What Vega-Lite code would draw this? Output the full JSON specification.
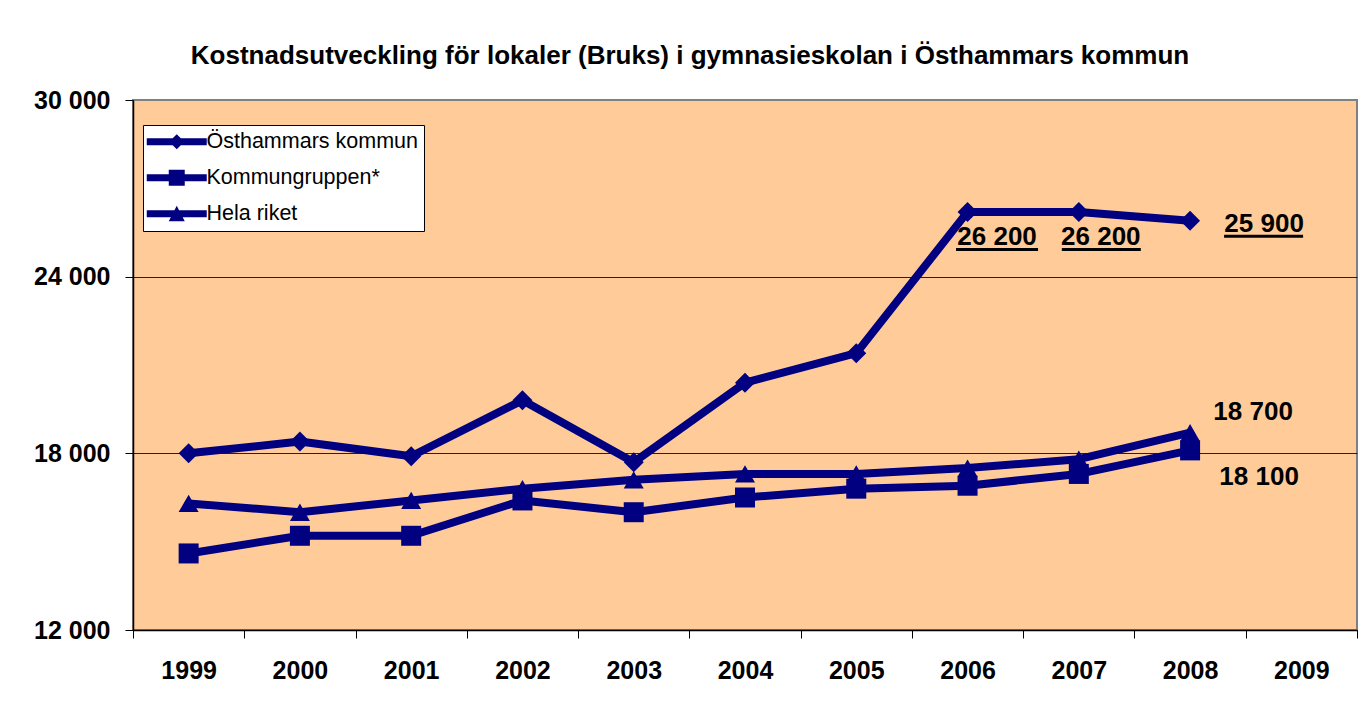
{
  "$schema": "https://vega.github.io/schema/vega-lite/v6.json",
  "width": 1224,
  "height": 530,
  "autosize": {"type": "none"},
  "padding": {"left": 133, "top": 100, "right": 4, "bottom": 81},
  "background": "white",
  "title": {
    "text": "Kostnadsutveckling för lokaler (Bruks) i gymnasieskolan i Östhammars kommun",
    "anchor": "middle",
    "frame": "group",
    "dx": -55,
    "offset": -2,
    "baseline": "alphabetic",
    "font": "Liberation Sans",
    "fontSize": 26,
    "fontWeight": "bold",
    "color": "black"
  },
  "config": {
    "locale": {"number": {"decimal": ",", "thousands": " ", "grouping": [3], "currency": ["", " kr"]}},
    "view": {"stroke": "#808080", "strokeWidth": 2, "fill": "#FFCC99"},
    "font": "Liberation Sans"
  },
  "resolve": {"scale": {"shape": "independent"}, "legend": {"shape": "independent"}},
  "data": {
    "values": [
      {"year": "1999", "series": "Östhammars kommun", "value": 18000},
      {"year": "2000", "series": "Östhammars kommun", "value": 18400},
      {"year": "2001", "series": "Östhammars kommun", "value": 17900},
      {"year": "2002", "series": "Östhammars kommun", "value": 19800},
      {"year": "2003", "series": "Östhammars kommun", "value": 17700},
      {"year": "2004", "series": "Östhammars kommun", "value": 20400},
      {"year": "2005", "series": "Östhammars kommun", "value": 21400},
      {"year": "2006", "series": "Östhammars kommun", "value": 26200},
      {"year": "2007", "series": "Östhammars kommun", "value": 26200},
      {"year": "2008", "series": "Östhammars kommun", "value": 25900},
      {"year": "1999", "series": "Kommungruppen*", "value": 14600},
      {"year": "2000", "series": "Kommungruppen*", "value": 15200},
      {"year": "2001", "series": "Kommungruppen*", "value": 15200},
      {"year": "2002", "series": "Kommungruppen*", "value": 16400},
      {"year": "2003", "series": "Kommungruppen*", "value": 16000},
      {"year": "2004", "series": "Kommungruppen*", "value": 16500},
      {"year": "2005", "series": "Kommungruppen*", "value": 16800},
      {"year": "2006", "series": "Kommungruppen*", "value": 16900},
      {"year": "2007", "series": "Kommungruppen*", "value": 17300},
      {"year": "2008", "series": "Kommungruppen*", "value": 18100},
      {"year": "1999", "series": "Hela riket", "value": 16300},
      {"year": "2000", "series": "Hela riket", "value": 16000},
      {"year": "2001", "series": "Hela riket", "value": 16400},
      {"year": "2002", "series": "Hela riket", "value": 16800},
      {"year": "2003", "series": "Hela riket", "value": 17100},
      {"year": "2004", "series": "Hela riket", "value": 17300},
      {"year": "2005", "series": "Hela riket", "value": 17300},
      {"year": "2006", "series": "Hela riket", "value": 17500},
      {"year": "2007", "series": "Hela riket", "value": 17800},
      {"year": "2008", "series": "Hela riket", "value": 18700}
    ]
  },
  "encoding": {
    "x": {
      "field": "year",
      "type": "nominal",
      "scale": {"domain": ["1999","2000","2001","2002","2003","2004","2005","2006","2007","2008","2009"], "paddingInner": 0, "paddingOuter": 0},
      "axis": {
        "title": null, "labelAngle": 0, "labelFont": "Liberation Sans", "labelFontSize": 25, "labelFontWeight": "bold",
        "labelColor": "black", "labelPadding": 20, "tickSize": 8, "tickColor": "black", "domainColor": "black",
        "domainWidth": 1.5, "tickBand": "extent", "grid": false
      }
    },
    "y": {
      "field": "value",
      "type": "quantitative",
      "scale": {"domain": [12000, 30000], "nice": false, "zero": false},
      "axis": {
        "title": null, "values": [12000, 18000, 24000, 30000], "format": ",d", "labelFont": "Liberation Sans",
        "labelFontSize": 25, "labelFontWeight": "bold", "labelColor": "black", "labelPadding": 15, "tickSize": 8,
        "tickColor": "black", "domainColor": "black", "domainWidth": 1.5, "grid": true,
        "gridColor": {"condition": {"test": "datum.value === 30000", "value": "#808080"}, "value": "#222222"},
        "gridWidth": 1
      }
    }
  },
  "layer": [
    {
      "mark": {"type": "line", "color": "#000080", "strokeWidth": 8, "strokeJoin": "round", "strokeCap": "round"},
      "encoding": {"detail": {"field": "series"}}
    },
    {
      "mark": {"type": "point", "filled": true, "opacity": 1, "size": 400, "color": "#000080", "strokeWidth": 0},
      "encoding": {
        "shape": {
          "field": "series",
          "type": "nominal",
          "scale": {"domain": ["Östhammars kommun", "Kommungruppen*", "Hela riket"], "range": ["diamond", "square", "triangle-up"]},
          "legend": null
        }
      }
    },
    {
      "mark": {"type": "point", "filled": true, "opacity": 0, "size": 256, "color": "#000080", "strokeWidth": 0},
      "encoding": {
        "shape": {
          "field": "series",
          "type": "nominal",
          "scale": {
            "domain": ["Östhammars kommun", "Kommungruppen*", "Hela riket"],
            "range": [
              "M-3.75,-0.45H3.75V0.45H-3.75Z M0,-0.95L0.95,0L0,0.95L-0.95,0Z",
              "M-3.75,-0.45H3.75V0.45H-3.75Z M-1,-1H1V1H-1Z",
              "M-3.75,-0.45H3.75V0.45H-3.75Z M-1,0.95L0,-1L1,0.95Z"
            ]
          },
          "legend": {
            "title": null, "orient": "none", "legendX": 10, "legendY": 25,
            "fillColor": "white", "strokeColor": "black", "padding": 6,
            "labelFont": "Liberation Sans", "labelFontSize": 21.5, "labelColor": "black", "labelLimit": 400,
            "symbolSize": 256, "symbolOffset": 17, "labelOffset": 19, "rowPadding": 13,
            "symbolFillColor": "#000080", "symbolStrokeColor": "#000080", "symbolStrokeWidth": 0, "symbolOpacity": 1
          }
        }
      }
    },
    {
      "transform": [{"filter": "datum.series === 'Östhammars kommun' && datum.year === '2006'"}],
      "mark": {"type": "text", "font": "Liberation Sans", "fontSize": 26, "fontWeight": "bold", "color": "black", "align": "center", "baseline": "middle", "dx": 29.5, "dy": 25},
      "encoding": {"text": {"field": "value", "type": "quantitative", "format": ",d"}}
    },
    {
      "transform": [{"filter": "datum.series === 'Östhammars kommun' && datum.year === '2007'"}],
      "mark": {"type": "text", "font": "Liberation Sans", "fontSize": 26, "fontWeight": "bold", "color": "black", "align": "center", "baseline": "middle", "dx": 22, "dy": 25},
      "encoding": {"text": {"field": "value", "type": "quantitative", "format": ",d"}}
    },
    {
      "transform": [{"filter": "datum.series === 'Östhammars kommun' && datum.year === '2008'"}],
      "mark": {"type": "text", "font": "Liberation Sans", "fontSize": 26, "fontWeight": "bold", "color": "black", "align": "center", "baseline": "middle", "dx": 74, "dy": 3},
      "encoding": {"text": {"field": "value", "type": "quantitative", "format": ",d"}}
    },
    {
      "transform": [{"filter": "datum.series === 'Hela riket' && datum.year === '2008'"}],
      "mark": {"type": "text", "font": "Liberation Sans", "fontSize": 26, "fontWeight": "bold", "color": "black", "align": "center", "baseline": "middle", "dx": 63, "dy": -21},
      "encoding": {"text": {"field": "value", "type": "quantitative", "format": ",d"}}
    },
    {
      "transform": [{"filter": "datum.series === 'Kommungruppen*' && datum.year === '2008'"}],
      "mark": {"type": "text", "font": "Liberation Sans", "fontSize": 26, "fontWeight": "bold", "color": "black", "align": "center", "baseline": "middle", "dx": 69, "dy": 27},
      "encoding": {"text": {"field": "value", "type": "quantitative", "format": ",d"}}
    },
    {
      "transform": [{"filter": "datum.series === 'Östhammars kommun' && datum.year === '2006'"}],
      "mark": {"type": "rule", "color": "black", "strokeWidth": 3, "xOffset": -11.5, "x2Offset": 70.5, "yOffset": 37.6},
      "encoding": {"x2": {"field": "year"}}
    },
    {
      "transform": [{"filter": "datum.series === 'Östhammars kommun' && datum.year === '2007'"}],
      "mark": {"type": "rule", "color": "black", "strokeWidth": 3, "xOffset": -17, "x2Offset": 62, "yOffset": 37.6},
      "encoding": {"x2": {"field": "year"}}
    },
    {
      "transform": [{"filter": "datum.series === 'Östhammars kommun' && datum.year === '2008'"}],
      "mark": {"type": "rule", "color": "black", "strokeWidth": 3, "xOffset": 34, "x2Offset": 113, "yOffset": 15.5},
      "encoding": {"x2": {"field": "year"}}
    }
  ]
}
